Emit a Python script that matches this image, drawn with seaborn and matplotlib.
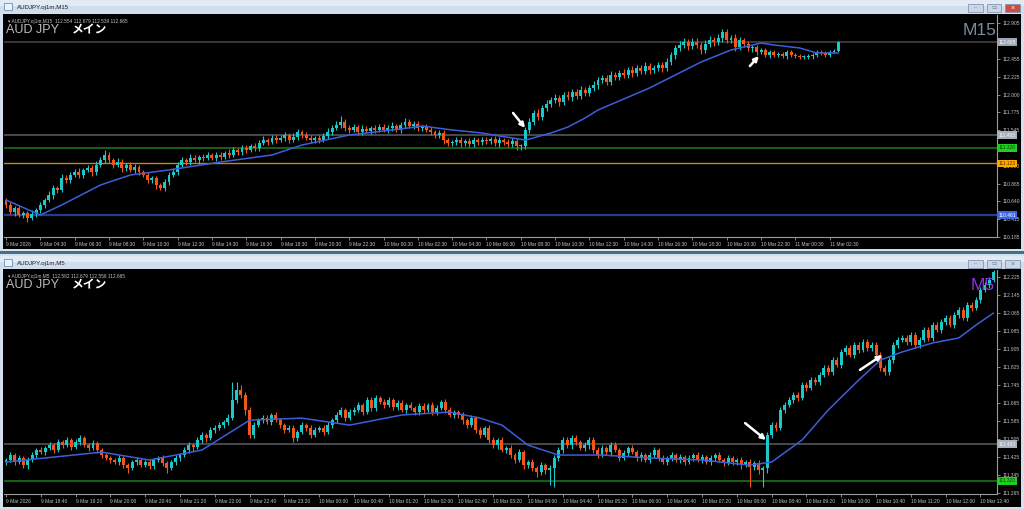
import numpy as np
import matplotlib
matplotlib.use("Agg")
import matplotlib.pyplot as plt
from matplotlib.patches import Rectangle
import seaborn as sns

# ---------------- data : upper window (M15) ----------------
m15_open_first = 110.656
m15_close = [
    110.593, 110.503, 110.554, 110.465, 110.491, 110.427, 110.478, 110.529,
    110.593, 110.656, 110.720, 110.809, 110.784, 110.937, 110.911, 110.975,
    111.013, 110.975, 111.039, 111.064, 111.013, 111.102, 111.166, 111.230,
    111.166, 111.102, 111.140, 111.064, 111.102, 111.039, 111.077, 111.013,
    110.975, 110.911, 110.937, 110.847, 110.809, 110.886, 110.975, 111.013,
    111.102, 111.166, 111.140, 111.191, 111.166, 111.204, 111.191, 111.230,
    111.191, 111.230, 111.204, 111.255, 111.230, 111.293, 111.268, 111.319,
    111.293, 111.344, 111.319, 111.382, 111.421, 111.395, 111.446, 111.421,
    111.446, 111.484, 111.421, 111.459, 111.523, 111.484, 111.446, 111.421,
    111.446, 111.421, 111.472, 111.523, 111.574, 111.612, 111.650, 111.574,
    111.548, 111.586, 111.523, 111.561, 111.535, 111.574, 111.548, 111.586,
    111.548, 111.574, 111.599, 111.548, 111.612, 111.650, 111.599, 111.625,
    111.574, 111.586, 111.548, 111.523, 111.484, 111.510, 111.421, 111.382,
    111.395, 111.421, 111.382, 111.408, 111.370, 111.421, 111.395, 111.421,
    111.408, 111.433, 111.382, 111.421, 111.395, 111.370, 111.408, 111.344,
    111.344, 111.548, 111.650, 111.765, 111.714, 111.828, 111.879, 111.930,
    111.956, 111.905, 111.994, 111.968, 112.032, 111.981, 112.058, 112.019,
    112.083, 112.121, 112.185, 112.210, 112.160, 112.249, 112.223, 112.274,
    112.249, 112.312, 112.274, 112.338, 112.300, 112.363, 112.312, 112.338,
    112.376, 112.338, 112.414, 112.503, 112.593, 112.631, 112.669, 112.618,
    112.669, 112.631, 112.567, 112.644, 112.695, 112.669, 112.720, 112.796,
    112.695, 112.720, 112.605, 112.695, 112.644, 112.593, 112.605, 112.542,
    112.567, 112.503, 112.542, 112.503, 112.516, 112.491, 112.542, 112.503,
    112.491, 112.478, 112.478, 112.491, 112.503, 112.542, 112.529, 112.503,
    112.542, 112.554, 112.665,
]
# wick lengths beyond the body, in 0.001 JPY
m15_wick_up = [
    30, 40, 25, 35, 20, 30, 45, 30,   40, 30, 50, 35, 30, 45, 40, 35,
    35, 50, 30, 40, 35, 45, 40, 60,   40, 30, 45, 35, 30, 40, 35, 30,
    30, 35, 30, 25, 30, 40, 35, 45,   40, 35, 30, 45, 35, 30, 40, 35,
    30, 40, 35, 30, 45, 35, 30, 40,   35, 30, 40, 35, 45, 30, 40, 35,
    40, 35, 30, 45, 35, 30, 40, 35,   30, 35, 40, 45, 40, 50, 80, 40,
    35, 40, 30, 45, 35, 30, 40, 35,   40, 35, 45, 30, 40, 50, 35, 40,
    35, 30, 40, 35, 30, 40, 35, 30,   30, 40, 35, 30, 40, 35, 30, 40,
    35, 30, 40, 35, 30, 35, 40, 30,   30, 40, 50, 40, 45, 35, 50, 40,
    45, 35, 40, 50, 40, 35, 45, 40,   40, 45, 35, 40, 45, 50, 35, 40,
    45, 40, 50, 35, 40, 45, 40, 35,   40, 35, 50, 45, 40, 50, 45, 40,
    45, 50, 40, 45, 55, 40, 45, 35,   40, 35, 45, 40, 30, 35, 30, 25,
    25, 30, 20, 25, 30, 25, 20, 25,   20, 25, 30, 20, 25, 30, 20, 25,
    25, 20, 14,
]
m15_wick_dn = [
    40, 30, 50, 25, 35, 45, 30, 40,   35, 40, 30, 45, 35, 30, 40, 35,
    30, 40, 35, 30, 45, 35, 30, 40,   35, 40, 30, 45, 35, 30, 40, 35,
    30, 40, 35, 45, 30, 40, 35, 30,   35, 30, 40, 35, 30, 45, 35, 30,
    30, 35, 40, 30, 35, 30, 40, 35,   35, 30, 40, 35, 30, 35, 30, 40,
    30, 35, 40, 30, 35, 40, 30, 35,   40, 35, 30, 35, 40, 30, 35, 45,
    35, 30, 40, 35, 30, 35, 40, 30,   30, 35, 40, 30, 35, 40, 30, 35,
    35, 40, 30, 35, 40, 35, 45, 40,   40, 35, 45, 40, 35, 40, 35, 40,
    35, 40, 35, 45, 40, 35, 40, 50,   45, 40, 35, 40, 35, 40, 35, 40,
    40, 45, 35, 40, 45, 40, 35, 40,   35, 40, 45, 35, 40, 45, 40, 35,
    40, 35, 45, 40, 35, 40, 45, 40,   40, 45, 35, 40, 45, 40, 35, 45,
    40, 35, 45, 40, 35, 50, 40, 45,   35, 40, 45, 40, 35, 40, 45, 40,
    30, 25, 35, 30, 25, 30, 35, 30,   25, 30, 25, 30, 35, 25, 30, 25,
    20, 15, 15,
]
m15_ma_bar = [0, 8, 13, 22, 29, 38, 50, 62, 69, 80, 92, 97, 104, 111, 115,
              121, 122, 127, 131, 135, 138, 150, 162, 169, 176, 179, 185, 189, 194]
m15_ma_val = [110.656, 110.465, 110.593, 110.847, 110.975, 111.039, 111.140,
              111.230, 111.357, 111.484, 111.561, 111.599, 111.548, 111.510,
              111.472, 111.421, 111.433, 111.510, 111.586, 111.701, 111.803,
              112.083, 112.414, 112.567, 112.656, 112.631, 112.593, 112.529,
              112.529]
m15_xlabels = ["9 Mar 2026", "9 Mar 04:30", "9 Mar 06:30", "9 Mar 08:30",
               "9 Mar 10:30", "9 Mar 12:30", "9 Mar 14:30", "9 Mar 16:30",
               "9 Mar 18:30", "9 Mar 20:30", "9 Mar 22:30", "10 Mar 00:30",
               "10 Mar 02:30", "10 Mar 04:30", "10 Mar 06:30", "10 Mar 08:30",
               "10 Mar 10:30", "10 Mar 12:30", "10 Mar 14:30", "10 Mar 16:30",
               "10 Mar 18:30", "10 Mar 20:30", "10 Mar 22:30", "11 Mar 00:30",
               "11 Mar 02:30"]
m15_yticks = [110.185, 110.415, 110.640, 110.865, 111.090, 111.320, 111.545,
              111.775, 112.000, 112.225, 112.455, 112.680, 112.905]
m15_levels = [112.665, 111.483, 111.320, 111.123, 110.461]
m15_arrows = [((118.2, 111.765), (121.0, 111.574)),
              ((173.4, 112.363), (175.5, 112.491))]

# ---------------- data : lower window (M5) ----------------
m5_open_first = 111.403
m5_close = [
    111.412, 111.434, 111.403, 111.421, 111.389, 111.412, 111.434, 111.456,
    111.447, 111.465, 111.478, 111.456, 111.492, 111.478, 111.501, 111.469,
    111.492, 111.509, 111.478, 111.465, 111.487, 111.456, 111.434, 111.421,
    111.412, 111.403, 111.421, 111.389, 111.376, 111.403, 111.412, 111.389,
    111.403, 111.385, 111.412, 111.421, 111.398, 111.376, 111.403, 111.421,
    111.434, 111.456, 111.478, 111.469, 111.501, 111.523, 111.509, 111.545,
    111.554, 111.567, 111.581, 111.598, 111.678, 111.723, 111.701, 111.634,
    111.523, 111.567, 111.589, 111.598, 111.581, 111.612, 111.589, 111.567,
    111.545, 111.554, 111.509, 111.536, 111.567, 111.554, 111.523, 111.545,
    111.554, 111.536, 111.567, 111.589, 111.612, 111.634, 111.598, 111.625,
    111.634, 111.656, 111.625, 111.678, 111.643, 111.687, 111.669, 111.656,
    111.678, 111.647, 111.665, 111.634, 111.656, 111.643, 111.625, 111.652,
    111.634, 111.656, 111.625, 111.643, 111.669, 111.634, 111.612, 111.625,
    111.612, 111.589, 111.567, 111.598, 111.545, 111.523, 111.554, 111.501,
    111.478, 111.501, 111.456, 111.465, 111.434, 111.412, 111.447, 111.389,
    111.403, 111.376, 111.358, 111.389, 111.367, 111.376, 111.421, 111.456,
    111.501, 111.478, 111.509, 111.492, 111.465, 111.478, 111.501, 111.456,
    111.434, 111.465, 111.447, 111.478, 111.456, 111.421, 111.443, 111.465,
    111.447, 111.421, 111.434, 111.412, 111.434, 111.456, 111.421, 111.403,
    111.421, 111.434, 111.412, 111.425, 111.403, 111.421, 111.434, 111.412,
    111.425, 111.403, 111.421, 111.434, 111.412, 111.398, 111.421, 111.403,
    111.412, 111.389, 111.403, 111.381, 111.398, 111.367, 111.376, 111.523,
    111.567, 111.554, 111.634, 111.656, 111.678, 111.701, 111.687, 111.745,
    111.732, 111.767, 111.758, 111.789, 111.821, 111.803, 111.856, 111.834,
    111.892, 111.909, 111.878, 111.923, 111.901, 111.936, 111.909, 111.923,
    111.878, 111.821, 111.803, 111.856, 111.923, 111.945, 111.954, 111.936,
    111.967, 111.923, 111.945, 111.989, 111.954, 112.012, 111.989, 112.025,
    112.043, 112.012, 112.056, 112.078, 112.043, 112.101, 112.087, 112.123,
    112.167, 112.189, 112.212, 112.247,
]
m5_wick_up = [
    10, 15, 8, 12, 10, 15, 12, 10,   12, 10, 15, 8, 12, 10, 15, 10,
    15, 12, 10, 8, 12, 10, 8, 10,    10, 8, 12, 10, 8, 10, 12, 8,
    10, 12, 8, 10, 12, 8, 10, 12,    10, 12, 15, 10, 12, 15, 10, 12,
    12, 15, 10, 20, 80, 35, 20, 15,  12, 15, 10, 12, 15, 10, 12, 10,
    10, 12, 15, 10, 12, 10, 15, 12,  10, 12, 15, 10, 12, 15, 10, 12,
    12, 15, 10, 12, 15, 12, 10, 12,  15, 10, 12, 15, 10, 12, 10, 12,
    12, 10, 15, 12, 10, 12, 15, 10,  10, 12, 10, 15, 10, 12, 10, 12,
    12, 10, 12, 10, 12, 10, 12, 10,  10, 12, 10, 12, 10, 12, 15, 12,
    15, 12, 15, 12, 10, 12, 15, 12,  12, 15, 10, 12, 15, 10, 12, 10,
    12, 10, 12, 10, 12, 15, 10, 12,  10, 12, 10, 12, 10, 12, 10, 12,
    12, 10, 12, 10, 12, 10, 12, 10,  10, 12, 10, 12, 10, 12, 10, 15,
    15, 12, 15, 12, 15, 12, 15, 12,  12, 15, 12, 15, 12, 15, 12, 15,
    15, 12, 15, 12, 15, 12, 15, 12,  12, 15, 12, 15, 12, 15, 12, 15,
    15, 12, 15, 12, 15, 12, 15, 12,  12, 15, 12, 15, 12, 15, 12, 15,
    12, 15, 12, 10,
]
m5_wick_dn = [
    12, 10, 15, 10, 12, 15, 10, 12,  10, 12, 10, 15, 10, 12, 10, 12,
    10, 12, 10, 15, 10, 12, 15, 10,  12, 10, 15, 12, 20, 10, 12, 10,
    10, 12, 15, 10, 12, 20, 10, 12,  12, 10, 12, 15, 10, 12, 15, 10,
    12, 10, 12, 15, 10, 12, 15, 20,  15, 12, 10, 12, 10, 12, 10, 12,
    12, 10, 15, 12, 10, 12, 15, 10,  10, 12, 10, 15, 12, 10, 12, 10,
    12, 10, 12, 10, 15, 12, 10, 12,  10, 12, 15, 10, 12, 10, 12, 15,
    12, 10, 12, 15, 10, 12, 10, 12,  12, 15, 12, 10, 15, 12, 10, 15,
    12, 15, 10, 12, 15, 12, 10, 15,  12, 15, 20, 12, 15, 67, 86, 12,
    15, 12, 15, 12, 10, 12, 15, 12,  12, 10, 12, 15, 10, 12, 10, 12,
    10, 12, 15, 10, 12, 15, 12, 10,  12, 15, 10, 12, 15, 10, 12, 10,
    12, 10, 12, 15, 10, 12, 10, 15,  12, 15, 10, 91, 12, 15, 77, 20,
    12, 15, 10, 12, 10, 12, 15, 10,  12, 10, 15, 12, 10, 15, 12, 10,
    12, 15, 10, 12, 15, 10, 12, 15,  15, 12, 15, 12, 15, 12, 10, 12,
    12, 15, 12, 10, 12, 15, 10, 12,  12, 10, 15, 12, 10, 15, 12, 10,
    12, 10, 12, 10,
]
m5_ma_bar = [0, 22, 33, 45, 56, 68, 79, 91, 102, 109, 114, 120, 127, 137,
             148, 160, 171, 176, 183, 189, 196, 201, 206, 213, 219, 223, 227]
m5_ma_val = [111.403, 111.447, 111.412, 111.456, 111.589, 111.598, 111.567,
             111.612, 111.625, 111.598, 111.567, 111.478, 111.434, 111.434,
             111.421, 111.412, 111.389, 111.403, 111.501, 111.634, 111.767,
             111.856, 111.892, 111.932, 111.954, 112.012, 112.065]
m5_xlabels = ["9 Mar 2026", "9 Mar 18:40", "9 Mar 19:20", "9 Mar 20:00",
              "9 Mar 20:40", "9 Mar 21:20", "9 Mar 22:00", "9 Mar 22:40",
              "9 Mar 23:20", "10 Mar 00:00", "10 Mar 00:40", "10 Mar 01:20",
              "10 Mar 02:00", "10 Mar 02:40", "10 Mar 03:20", "10 Mar 04:00",
              "10 Mar 04:40", "10 Mar 05:20", "10 Mar 06:00", "10 Mar 06:40",
              "10 Mar 07:20", "10 Mar 08:00", "10 Mar 08:40", "10 Mar 09:20",
              "10 Mar 10:00", "10 Mar 10:40", "10 Mar 11:20", "10 Mar 12:00",
              "10 Mar 12:40"]
m5_yticks = [111.265, 111.345, 111.425, 111.505, 111.585, 111.665, 111.745,
             111.825, 111.905, 111.985, 112.065, 112.145, 112.225]
m5_levels = [111.483, 111.320]
m5_arrows = [((169.9, 111.576), (174.7, 111.501)),
             ((196.3, 111.812), (201.4, 111.878))]

# ---------------- style ----------------
BULL = '#1DC8C8'
BEAR = '#F4561A'
MA_COLOR = '#3B5FDB'
TXT = '#C4C4C4'
SPINE = '#9C9C9C'
level_style = {  # value -> (line colour, line width, box bg, box text)
    112.665: ('#3C3C3C', 1.3, '#9BA5B1', '#FFFFFF'),
    111.483: ('#4B5056', 1.3, '#A8B1BB', '#F4F4F4'),
    111.320: ('#176A17', 1.3, '#1FD01F', '#0A400A'),
    111.123: ('#C8860C', 1.0, '#FFA800', '#4A2E00'),
    110.461: ('#213F8E', 1.6, '#3E66E0', '#FFFFFF'),
}

sns.set_theme(style="dark")
plt.rcParams['font.family'] = ['Liberation Sans', 'Noto Sans CJK JP', 'DejaVu Sans']
plt.rcParams['axes.unicode_minus'] = False

W, H = 1024, 509
fig = plt.figure(figsize=(W / 100, H / 100), dpi=100)
fig.patch.set_facecolor('#D4E0EE')


def box(x0, y0, x1, y1, fc, ec='none', lw=0, z=0):
    fig.add_artist(Rectangle((x0 / W, 1 - y1 / H), (x1 - x0) / W, (y1 - y0) / H,
                             transform=fig.transFigure, facecolor=fc,
                             edgecolor=ec, linewidth=lw, zorder=z))


def window(y_top, title, close_red):
    box(0, y_top, W, y_top + 6, '#E2EAF4', z=-5)
    box(0, y_top + 6, W, y_top + 13, '#D0DDEC', z=-5)
    box(4, y_top + 3, 12, y_top + 10, '#EAF1F9', ec='#6E8FB5', lw=0.6, z=1)
    fig.text(17 / W, 1 - (y_top + 7) / H, title, fontsize=4.4, color='#1E1E1E',
             va='center', ha='left')
    for (bx0, bx1), fc in zip(((968, 983), (987, 1001), (1005, 1020)),
                              ('#CBD7E6', '#CBD7E6', '#D24C3C' if close_red else '#CBD7E6')):
        box(bx0, y_top + 4, bx1, y_top + 12, fc, ec='#8197B3', lw=0.6, z=1)
    gl = '#FFFFFF' if close_red else '#6A7A90'
    fig.text(975.5 / W, 1 - (y_top + 8.3) / H, '–', fontsize=4, color='#6A7A90', ha='center', va='center')
    fig.text(994 / W, 1 - (y_top + 8) / H, '▭', fontsize=4, color='#6A7A90', ha='center', va='center',
             family=['DejaVu Sans'])
    fig.text(1012.5 / W, 1 - (y_top + 8) / H, '×', fontsize=5, color=gl, ha='center', va='center')


# window chrome
window(0, 'AUDJPY.oj1m,M15', True)
box(3, 14, 1021, 249, 'black', z=-4)
box(0, 251, W, 253.5, '#3F7282', z=-4)
window(256, 'AUDJPY.oj1m,M5', False)
box(3, 269, 1021, 507, 'black', z=-4)


def draw_chart(ax, first_open, close, wu, wd, body_w, min_h, ma_bar, ma_val,
               xlim, ylim, xlabels, yticks, levels, arrows):
    close = np.asarray(close, float)
    opn = np.r_[first_open, close[:-1]]
    hi = np.maximum(opn, close) + np.asarray(wu) / 1000.0
    lo = np.minimum(opn, close) - np.asarray(wd) / 1000.0
    idx = np.arange(len(close))
    col = np.where(close >= opn, BULL, BEAR)

    ax.set_facecolor('black')
    for lv in levels:
        lc, lw, bg, fg = level_style[lv]
        ax.axhline(lv, color=lc, lw=lw, zorder=1)
        ax.text(1.0015, lv, f"{lv:.3f}", transform=ax.get_yaxis_transform(),
                ha='left', va='center', fontsize=3.5, color=fg, zorder=6,
                clip_on=False,
                bbox=dict(boxstyle='square,pad=0.28', fc=bg, ec='none'))
    ax.vlines(idx, lo, hi, colors=col, lw=0.8, zorder=2)
    ax.bar(idx, np.maximum(np.abs(close - opn), min_h),
           bottom=np.minimum(opn, close), width=body_w, color=col,
           linewidth=0, zorder=3)
    sns.lineplot(x=ma_bar, y=ma_val, ax=ax, color=MA_COLOR, linewidth=1.1,
                 zorder=4, legend=False)
    for (tx, ty), (hx, hy) in arrows:
        ax.annotate('', xy=(hx, hy), xytext=(tx, ty), zorder=7,
                    arrowprops=dict(arrowstyle='-|>', color='white', lw=1.8,
                                    mutation_scale=7, shrinkA=0, shrinkB=0))

    ax.set_xlim(*xlim)
    ax.set_ylim(*ylim)
    ax.set_xticks(np.arange(len(xlabels)) * 8)
    ax.set_xticklabels(xlabels, ha='left')
    ax.yaxis.tick_right()
    ax.set_yticks(yticks)
    # a tick label hidden under a price box is left blank, as in the terminal
    ax.set_yticklabels(['' if min(abs(v - lv) for lv in levels) < 0.02 else f"{v:.3f}"
                        for v in yticks])
    ax.tick_params(axis='x', bottom=True, top=False, length=2.5, width=0.6,
                   color=SPINE, labelcolor=TXT, labelsize=3.5, pad=1.2,
                   direction='out')
    ax.tick_params(axis='y', right=True, left=False, length=2.5, width=0.6,
                   color=SPINE, labelcolor=TXT, labelsize=3.5, pad=1.5,
                   direction='out')
    ax.grid(False)
    ax.set_xlabel('')
    ax.set_ylabel('')
    for s in ('top', 'left'):
        ax.spines[s].set_visible(False)
    for s in ('right', 'bottom'):
        ax.spines[s].set_visible(True)
        ax.spines[s].set_color(SPINE)
        ax.spines[s].set_linewidth(0.8)


ax1 = fig.add_axes([4 / W, 1 - 237 / H, 993 / W, 222 / H])
draw_chart(ax1, m15_open_first, m15_close, m15_wick_up, m15_wick_dn, 0.68, 0.008,
           m15_ma_bar, m15_ma_val, (-0.47, 231.0), (110.185, 113.013),
           m15_xlabels, m15_yticks, m15_levels, m15_arrows)

ax2 = fig.add_axes([4 / W, 1 - 494 / H, 993 / W, 224 / H])
draw_chart(ax2, m5_open_first, m5_close, m5_wick_up, m5_wick_dn, 0.68, 0.003,
           m5_ma_bar, m5_ma_val, (-0.46, 227.8), (111.261, 112.256),
           m5_xlabels, m5_yticks, m5_levels, m5_arrows)

# overlay texts
for ytop, hdr, tf, tfc in ((0, '▾ AUDJPY.oj1m,M15  112.554 112.679 112.539 112.665', 'M15', '#7A8CA2'),
                           (255, '▾ AUDJPY.oj1m,M5  112.582 112.679 112.556 112.665', 'M5', '#8A34E0')):
    fig.text(8 / W, 1 - (ytop + 23) / H, hdr, fontsize=3.4, color=TXT,
             va='baseline', ha='left', family=['Liberation Sans', 'DejaVu Sans'])
    fig.text(6 / W, 1 - (ytop + 33) / H, 'AUD JPY', fontsize=9, color='#BEBEBE',
             va='baseline', ha='left')
    fig.text(72 / W, 1 - (ytop + 33) / H, 'メイン', fontsize=8.5, color='white',
             va='baseline', ha='left', fontweight='bold',
             family=['Noto Sans CJK JP', 'DejaVu Sans'])
    fig.text((997 if tf == 'M15' else 995) / W, 1 - (ytop + 35) / H, tf,
             fontsize=12.5, color=tfc, va='baseline', ha='right')

fig.savefig('out.png', dpi=100, facecolor=fig.get_facecolor())
